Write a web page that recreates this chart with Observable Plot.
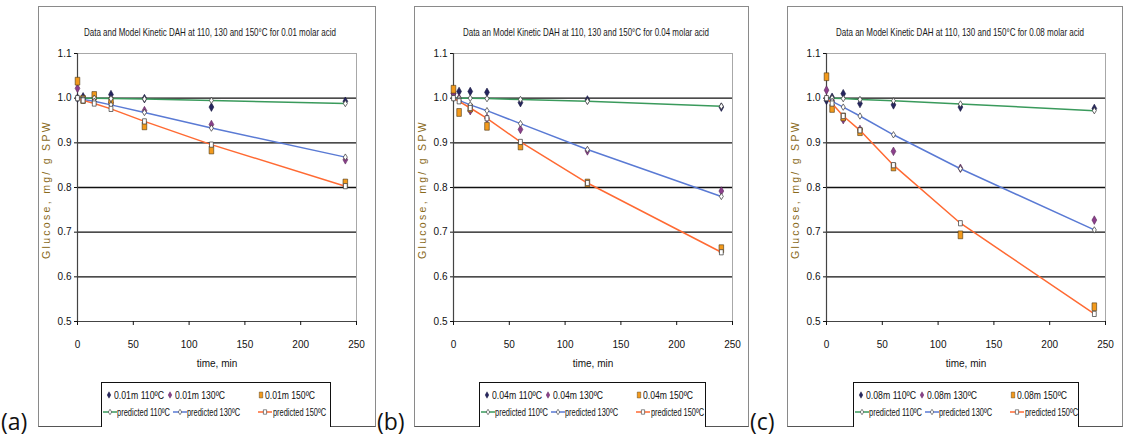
<!DOCTYPE html>
<html><head><meta charset="utf-8">
<script src="https://cdn.jsdelivr.net/npm/d3@7"></script>
<script src="https://cdn.jsdelivr.net/npm/@observablehq/plot@0.6"></script>
<style>
body{margin:0;background:#fff;width:1124px;height:437px;overflow:hidden;position:relative;font-family:"Liberation Sans",Arial,sans-serif;}
.panel{position:absolute;top:6px;height:421px;border:1px solid #8a8a8a;border-bottom:1px solid #555;box-sizing:border-box;background:#fff;}
.title{position:absolute;left:0;top:19px;font-size:11.5px;color:#1a1a1a;white-space:nowrap;transform-origin:left center;}
.plot{position:absolute;left:0;top:34px;}
.legend{position:absolute;top:375px;height:45px;border:1px solid #111;border-bottom:none;box-sizing:border-box;background:#fff;font-size:11px;color:#111;}
.icon{position:absolute;}
.txt{position:absolute;white-space:nowrap;transform-origin:left center;line-height:12px;}
.tag{position:absolute;top:410px;font-family:"Open Sans","Liberation Sans",sans-serif;font-size:23px;color:#111;line-height:1;}
</style>
</head><body>
<script>
// ---------- data ----------
const times = [0, 5, 15, 30, 60, 120, 240];
const xTicks = [0, 50, 100, 150, 200, 250];
const yTicks = [0.5, 0.6, 0.7, 0.8, 0.9, 1.0, 1.1];
const gridValues = [0.6, 0.7, 0.8, 0.9, 1.0];
const yLabel = "Glucose, mg/ g SPW";
const xLabel = "time, min";
const panelTags = ["(a)", "(b)", "(c)"];
const titles = [
  "Data and Model Kinetic DAH at 110, 130 and 150°C for 0.01 molar acid",
  "Data an Model Kinetic DAH at 110, 130 and 150°C for 0.04 molar acid",
  "Data an Model Kinetic DAH at 110, 130 and 150°C for 0.08 molar acid"
];
const acids = ["0.01m", "0.04m", "0.08m"];
const temps = ["110ºC", "130ºC", "150ºC"];

// measured (0.01 m)
const dataA110 = [1.000, 1.003, 1.000, 1.008, 0.999, 0.980, 0.993];
const dataA130 = [1.022, 0.998, 1.000, 0.990, 0.972, 0.941, 0.862];
const dataA150 = [1.038, 0.997, 1.006, 0.993, 0.938, 0.884, 0.810];
// predicted (0.01 m)
const predA110 = [1.000, 1.000, 1.000, 0.999, 0.998, 0.995, 0.988];
const predA130 = [1.000, 0.997, 0.993, 0.985, 0.968, 0.933, 0.868];
const predA150 = [1.000, 0.995, 0.988, 0.976, 0.948, 0.896, 0.803];

// measured (0.04 m)
const dataB110 = [1.010, 1.015, 1.015, 1.013, 0.990, 0.996, 0.980];
const dataB130 = [1.010, 1.000, 0.972, 0.955, 0.930, 0.882, 0.792];
const dataB150 = [1.020, 0.968, 0.978, 0.937, 0.893, 0.810, 0.663];
// predicted (0.04 m)
const predB110 = [1.000, 1.000, 1.000, 0.999, 0.997, 0.993, 0.982];
const predB130 = [1.000, 0.995, 0.985, 0.972, 0.943, 0.885, 0.780];
const predB150 = [1.000, 0.993, 0.978, 0.955, 0.902, 0.810, 0.655];

// measured (0.08 m)
const dataC110 = [0.995, 1.002, 1.010, 0.988, 0.985, 0.980, 0.977];
const dataC130 = [1.018, 0.995, 0.952, 0.930, 0.881, 0.843, 0.727];
const dataC150 = [1.048, 0.977, 0.958, 0.925, 0.846, 0.694, 0.533];
// predicted (0.08 m)
const predC110 = [1.000, 1.000, 0.999, 0.997, 0.994, 0.987, 0.972];
const predC130 = [1.000, 0.993, 0.980, 0.960, 0.918, 0.842, 0.705];
const predC150 = [1.000, 0.988, 0.960, 0.928, 0.850, 0.720, 0.517];

// ---------- styles ----------
const dataFill = ["#25255f", "#8c3f8c", "#f39a1c"];
const dataStroke = ["#1a1a40", "#5a2a5a", "#4a3410"];
const lineColor = ["#3a9a5c", "#5a7ad4", "#ff6a33"];
const font = '"Liberation Sans",Arial,sans-serif';

const tallDiamond = {draw(ctx){ctx.moveTo(0,-4.3);ctx.lineTo(2.4,0);ctx.lineTo(0,4.3);ctx.lineTo(-2.4,0);ctx.closePath();}};
const tallSquare = {draw(ctx){ctx.rect(-2.3,-3.9,4.6,7.8);}};
const smallDiamond = {draw(ctx){ctx.moveTo(0,-3.2);ctx.lineTo(2,0);ctx.lineTo(0,3.2);ctx.lineTo(-2,0);ctx.closePath();}};
const smallSquare = {draw(ctx){ctx.rect(-1.9,-2.6,3.8,5.2);}};
const dataSymbols = [tallDiamond, tallDiamond, tallSquare];
const predSymbols = [smallDiamond, smallDiamond, smallSquare];

const panels = [
  {left: 38, width: 338, mr: 19, titleLeft: 45, titleW: 252, data: [dataA110, dataA130, dataA150], pred: [predA110, predA130, predA150], legLeft: 62, legWidth: 230},
  {left: 414, width: 335, mr: 16, titleLeft: 48, titleW: 246, data: [dataB110, dataB130, dataB150], pred: [predB110, predB130, predB150], legLeft: 64, legWidth: 227},
  {left: 787, width: 336, mr: 17, titleLeft: 48, titleW: 248, data: [dataC110, dataC130, dataC150], pred: [predC110, predC130, predC150], legLeft: 65, legWidth: 226}
];

function rows(vals){ return times.map((t,i)=>({t, v: vals[i]})); }

function legendIcon(kind, k){
  const s = d3.create("svg").attr("width", kind==="data"?8:14).attr("height", 10);
  if (kind==="data"){
    const path = d3.path(); dataSymbols[k].draw(path);
    s.append("path").attr("d", path.toString()).attr("transform","translate(4,5) scale(0.75)")
      .attr("fill", dataFill[k]).attr("stroke", dataStroke[k]).attr("stroke-width",0.6);
  } else {
    s.append("line").attr("x1",0).attr("x2",14).attr("y1",5).attr("y2",5).attr("stroke",lineColor[k]).attr("stroke-width",1.5);
    const path = d3.path(); predSymbols[k].draw(path);
    s.append("path").attr("d", path.toString()).attr("transform","translate(7,5) scale(0.85)")
      .attr("fill","#fff").attr("stroke","#333").attr("stroke-width",0.7);
  }
  return s.node();
}

function addLegendText(leg, text, left, top, targetW){
  const s = document.createElement("div");
  s.className = "txt"; s.textContent = text;
  s.style.left = left + "px"; s.style.top = top + "px";
  leg.appendChild(s);
  const w = s.getBoundingClientRect().width;
  s.style.transform = `scaleX(${targetW / w})`;
}
function addLegendIcon(leg, node, left, top){
  node.classList.add("icon");
  node.style.left = left + "px"; node.style.top = top + "px";
  leg.appendChild(node);
}

panels.forEach((p, pi) => {
  const div = document.createElement("div");
  div.className = "panel";
  div.style.left = p.left + "px";
  div.style.width = p.width + "px";
  document.body.appendChild(div);

  const t = document.createElement("div");
  t.className = "title"; t.textContent = titles[pi];
  t.style.left = p.titleLeft + "px";
  div.appendChild(t);
  const tw = t.getBoundingClientRect().width;
  t.style.transform = `scaleX(${p.titleW / tw})`;

  const marks = [
    Plot.ruleY([1.1], {stroke: "#a8a8a8", strokeWidth: 1}),
    Plot.ruleX([250], {stroke: "#a8a8a8", strokeWidth: 1}),
    Plot.ruleY(gridValues, {stroke: "#111", strokeWidth: 1.4}),
    Plot.ruleY([0.5], {stroke: "#444", strokeWidth: 1.2}),
    Plot.ruleX([0], {stroke: "#444", strokeWidth: 1.2}),
    Plot.axisX({ticks: xTicks, tickSize: 4, tickPadding: 15, label: null, fontSize: 10}),
    Plot.axisY({ticks: yTicks, tickFormat: d3.format(".1f"), tickSize: 3, tickPadding: 3, label: null, fontSize: 10}),
    Plot.text([xLabel], {frameAnchor: "bottom", dy: 45, fontSize: 10, fill: "#111"}),
    Plot.text([yLabel], {frameAnchor: "left", textAnchor: "middle", rotate: -90, dx: -31, dy: 2, fontSize: 10.5, fill: "#8a6a1a"})
  ];
  for (let k = 0; k < 3; k++) {
    marks.push(Plot.dot(rows(p.data[k]), {x: "t", y: "v", symbol: dataSymbols[k], fill: dataFill[k], stroke: dataStroke[k], strokeWidth: 0.6}));
  }
  for (let k = 0; k < 3; k++) {
    marks.push(Plot.line(rows(p.pred[k]), {x: "t", y: "v", stroke: lineColor[k], strokeWidth: 1.5}));
    marks.push(Plot.dot(rows(p.pred[k]), {x: "t", y: "v", symbol: predSymbols[k], fill: "#fff", stroke: "#333", strokeWidth: 0.7}));
  }

  const chart = Plot.plot({
    width: p.width - 2, height: 332,
    marginLeft: 38, marginRight: p.mr, marginTop: 12, marginBottom: 52,
    x: {domain: [0, 250]},
    y: {domain: [0.5, 1.1]},
    style: {fontFamily: font, fontSize: "10px", color: "#111", background: "transparent"},
    marks
  });
  chart.classList.add("plot");
  d3.select(chart).selectAll("text").filter(function(){ return this.textContent === yLabel; })
    .style("letter-spacing", "2.3px");
  div.appendChild(chart);

  const leg = document.createElement("div");
  leg.className = "legend";
  leg.style.left = p.legLeft + "px";
  leg.style.width = p.legWidth + "px";
  div.appendChild(leg);
  const row1Icon = [3, 64, 155], row1Text = [12, 73, 163];
  const row2Icon = [1, 71, 156], row2Text = [15, 85, 171];
  for (let k = 0; k < 3; k++) {
    addLegendIcon(leg, legendIcon("data", k), row1Icon[k], 7);
    addLegendText(leg, acids[pi] + " " + temps[k], row1Text[k], 6, 50);
    addLegendIcon(leg, legendIcon("pred", k), row2Icon[k], 24);
    addLegendText(leg, "predicted " + temps[k], row2Text[k], 23, 53);
  }

  const tag = document.createElement("div");
  tag.className = "tag"; tag.textContent = panelTags[pi];
  tag.style.left = (p.left - 37) + "px";
  document.body.appendChild(tag);
});
</script>
</body></html>
